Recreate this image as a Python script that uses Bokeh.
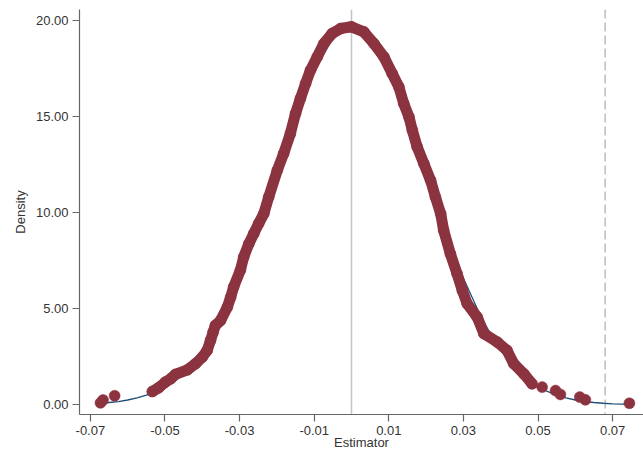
from bokeh.plotting import figure
from bokeh.models import Range1d, FixedTicker, PrintfTickFormatter, Span
from bokeh.embed import file_html
from bokeh.resources import INLINE

# Estimates (x) and their kernel density (y)
tail_left_x = [-0.0673, -0.0666, -0.0635]
tail_left_y = [0.10, 0.25, 0.47]

band_x = [-0.0534, -0.0517, -0.0499, -0.0485, -0.0472, -0.0440, -0.0418, -0.0400,
          -0.0387, -0.0378, -0.0371, -0.0365, -0.0351, -0.0333, -0.0324, -0.0316,
          -0.0298, -0.0289, -0.0275, -0.0262, -0.0249, -0.0235, -0.0222, -0.0199,
          -0.0182, -0.0164, -0.0150, -0.0137, -0.0123, -0.0110, -0.0092, -0.0074,
          -0.0052, -0.0029, 0.0000, 0.0033, 0.0060, 0.0087, 0.0109, 0.0127,
          0.0140, 0.0154, 0.0163, 0.0176, 0.0194, 0.0212, 0.0225, 0.0239,
          0.0247, 0.0265, 0.0283, 0.0297, 0.0310, 0.0337, 0.0355, 0.0391,
          0.0417, 0.0435, 0.0462, 0.0484]
band_y = [0.69, 0.89, 1.18, 1.35, 1.58, 1.82, 2.14, 2.48,
          2.83, 3.35, 3.78, 4.13, 4.39, 5.08, 5.60, 6.13,
          7.00, 7.69, 8.39, 8.91, 9.43, 9.95, 10.81, 12.20,
          13.07, 14.11, 15.16, 15.94, 16.72, 17.41, 18.10, 18.80,
          19.32, 19.58, 19.67, 19.41, 18.80, 18.10, 17.24, 16.54,
          15.68, 14.98, 14.29, 13.42, 12.55, 11.68, 10.81, 9.95,
          9.08, 7.86, 6.82, 5.95, 5.26, 4.56, 3.70, 3.26,
          2.83, 2.14, 1.61, 1.09]

tail_right_x = [0.0511, 0.0547, 0.0560, 0.0612, 0.0627, 0.0745]
tail_right_y = [0.92, 0.74, 0.54, 0.40, 0.26, 0.08]

# Reference normal density curve
norm_x = [-0.0675, -0.065, -0.0625, -0.06, -0.0575, -0.055, -0.0525, -0.05, -0.045,
          -0.04, -0.035, -0.03, -0.025, -0.02, -0.015, -0.01, -0.005, 0.0,
          0.005, 0.01, 0.015, 0.02, 0.025, 0.03, 0.035, 0.04, 0.045, 0.05,
          0.0525, 0.055, 0.0575, 0.06, 0.0625, 0.065, 0.0675, 0.07, 0.0725, 0.0745]
norm_y = [0.08, 0.12, 0.17, 0.25, 0.36, 0.50, 0.70, 0.95, 1.68,
          2.82, 4.45, 6.59, 9.20, 12.10, 14.95, 17.41, 19.06, 19.65,
          19.06, 17.41, 14.95, 12.10, 9.20, 6.59, 4.45, 2.82, 1.68, 0.95,
          0.70, 0.50, 0.36, 0.25, 0.17, 0.12, 0.08, 0.05, 0.04, 0.03]

zero_line = 0.0
cutoff_line = 0.068

x_ticks = [-0.07, -0.05, -0.03, -0.01, 0.01, 0.03, 0.05, 0.07]
y_ticks = [0, 5, 10, 15, 20]

DOT = "#8c3340"
NAVY = "#1f4e79"
FONT = "Liberation Sans"

p = figure(width=643, height=452, output_backend="svg", toolbar_location=None,
           x_range=Range1d(-0.07292, 0.07828), y_range=Range1d(-0.505, 20.57),
           min_border_left=79, min_border_right=0, min_border_top=9, min_border_bottom=38)
p.outline_line_color = None
p.xgrid.visible = False
p.ygrid.visible = False
p.background_fill_color = "white"

p.add_layout(Span(location=zero_line, dimension="height", line_color="#c4c4c4",
                  line_width=1.5, level="underlay"))
p.add_layout(Span(location=cutoff_line, dimension="height", line_color="#bdbdbd",
                  line_width=1.5, line_dash="9 4", level="underlay"))

p.line(norm_x, norm_y, line_color=NAVY, line_width=1.3)

p.line(band_x, band_y, line_color=DOT, line_width=11, line_join="round", line_cap="round")
p.scatter(band_x + tail_left_x + tail_right_x, band_y + tail_left_y + tail_right_y,
          size=11, fill_color=DOT, line_color=DOT, line_width=0.5)

for ax in (p.xaxis[0], p.yaxis[0]):
    ax.axis_line_color = "#666666"
    ax.axis_line_width = 1.2
    ax.major_tick_line_color = "#666666"
    ax.major_tick_line_width = 1.2
    ax.major_tick_in = 0
    ax.major_tick_out = 7
    ax.minor_tick_line_color = None
    ax.major_label_text_font = FONT
    ax.major_label_text_font_size = "13px"
    ax.major_label_text_color = "#333333"
    ax.axis_label_text_font = FONT
    ax.axis_label_text_font_size = "13px"
    ax.axis_label_text_font_style = "normal"
    ax.axis_label_text_color = "#333333"

p.xaxis.ticker = FixedTicker(ticks=x_ticks)
p.yaxis.ticker = FixedTicker(ticks=y_ticks)
p.xaxis.formatter = PrintfTickFormatter(format="%.2f")
p.yaxis.formatter = PrintfTickFormatter(format="%.2f")
p.xaxis.axis_label = "Estimator"
p.yaxis.axis_label = "Density"
p.xaxis.major_label_standoff = 4
p.xaxis.axis_label_standoff = -3
p.yaxis.major_label_standoff = 4
p.yaxis.axis_label_standoff = 5

open("out.html", "w").write(file_html(p, INLINE))
